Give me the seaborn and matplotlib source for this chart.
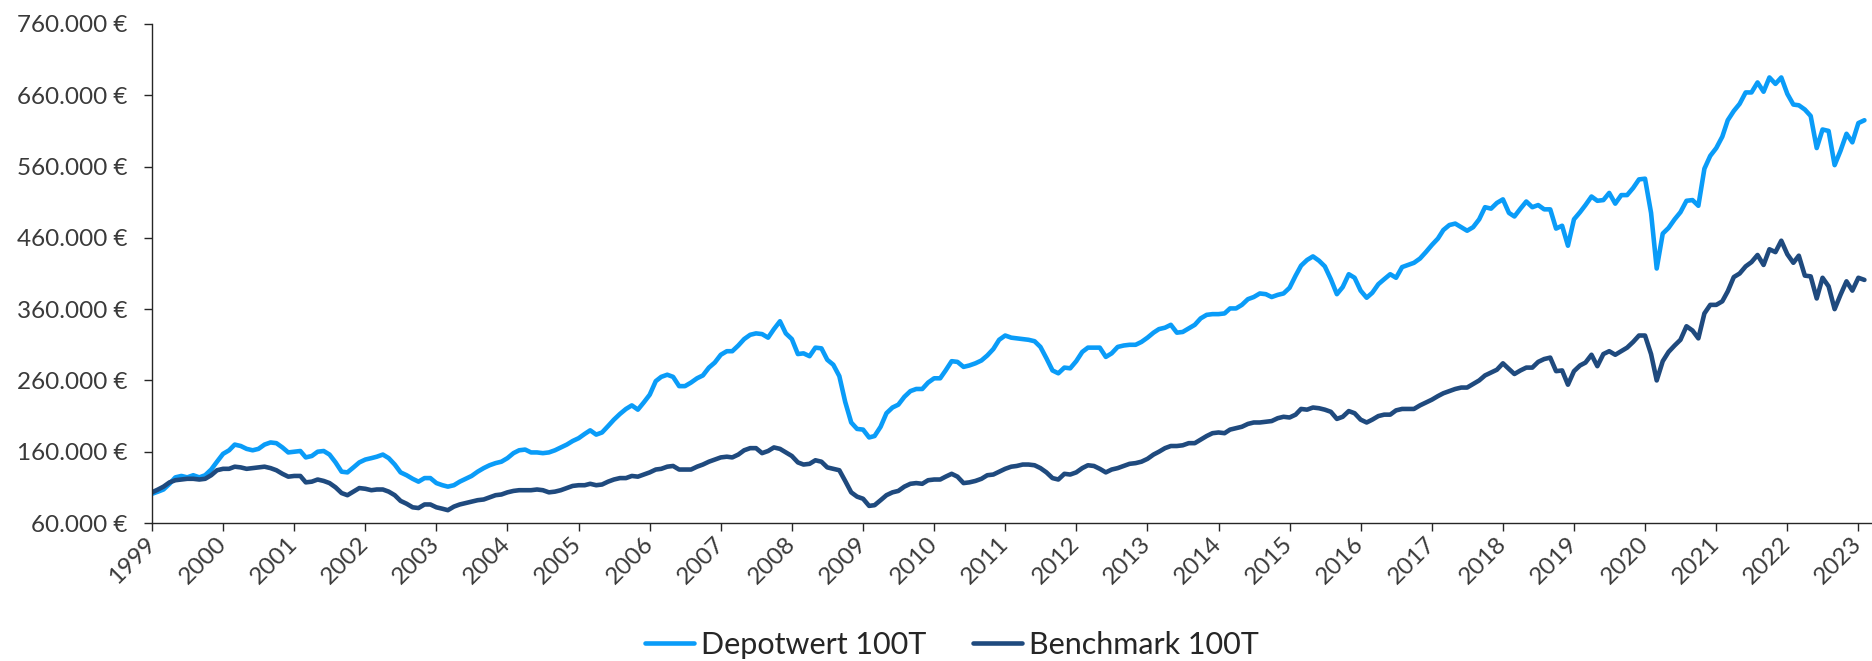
import numpy as np
import pandas as pd
import matplotlib
matplotlib.use('Agg')
from matplotlib import pyplot as plt
import matplotlib.dates as mdates
from matplotlib.ticker import FuncFormatter
import seaborn as sns

# Monthly values in thousand euro (Jan 1999 .. Feb 2023)
depotwert = [
    101, 104, 107, 115, 124, 126, 124, 127, 124, 127, 135, 146, 157, 162, 170, 168, 164, 162, 164, 170,
    173, 172, 166, 159, 160, 161, 152, 154, 160, 161, 156, 145, 132, 131, 138, 145, 149, 151, 153, 156,
    151, 142, 131, 127, 122, 118, 123, 123, 116, 113, 111, 113, 118, 122, 126, 132, 137, 141, 144, 146,
    151, 158, 162, 163, 159, 159, 158, 159, 162, 166, 170, 175, 179, 185, 190, 184, 187, 196, 205, 213,
    220, 225, 219, 229, 240, 259, 265, 268, 265, 252, 252, 257, 263, 267, 278, 285, 296, 301, 301, 309,
    318, 324, 326, 325, 320, 332, 343, 326, 318, 297, 298, 294, 306, 305, 289, 282, 266, 230, 201, 192,
    191, 180, 182, 195, 214, 222, 226, 237, 245, 248, 248, 257, 263, 263, 274, 287, 286, 279, 281, 284,
    288, 295, 304, 317, 323, 320, 319, 318, 317, 315, 307, 291, 274, 270, 278, 277, 287, 300, 306, 306,
    306, 293, 298, 307, 309, 310, 310, 314, 320, 327, 332, 334, 338, 327, 328, 333, 338, 347, 352, 353,
    353, 354, 361, 361, 366, 374, 377, 382, 381, 377, 380, 382, 390, 407, 421, 429, 434, 428, 420, 402,
    381, 391, 409, 404, 386, 376, 383, 395, 402, 409, 404, 419, 422, 425, 431, 440, 450, 459, 471, 478,
    480, 475, 470, 475, 486, 503, 501, 509, 514, 495, 490, 501, 511, 503, 506, 500, 500, 473, 477, 449,
    486, 496, 506, 518, 512, 513, 523, 508, 520, 520, 530, 542, 543, 495, 417, 466, 474, 486, 496, 512,
    513, 505, 557, 575, 586, 602, 625, 638, 648, 664, 664, 678, 665, 685, 676, 685, 662, 647, 646, 640,
    631, 586, 612, 610, 562, 582, 606, 594, 621, 625,
]
benchmark = [
    103, 107, 111, 117, 120, 121, 122, 122, 121, 122, 127, 134, 136, 136, 139, 138, 136, 137, 138, 139,
    137, 134, 129, 125, 126, 126, 117, 118, 121, 119, 116, 110, 102, 99, 104, 109, 108, 106, 107, 107,
    104, 99, 91, 87, 82, 81, 86, 86, 82, 80, 78, 83, 86, 88, 90, 92, 93, 96, 99, 100,
    103, 105, 106, 106, 106, 107, 106, 103, 104, 106, 109, 112, 113, 113, 115, 113, 114, 118, 121, 123,
    123, 126, 125, 128, 131, 135, 136, 139, 140, 135, 135, 135, 139, 142, 146, 149, 152, 153, 152, 156,
    162, 165, 165, 158, 161, 166, 164, 159, 154, 145, 142, 143, 148, 146, 138, 136, 134, 119, 103, 97,
    94, 84, 85, 92, 99, 103, 105, 111, 115, 116, 115, 120, 121, 121, 125, 129, 125, 116, 117, 119,
    122, 127, 128, 132, 136, 139, 140, 142, 142, 141, 137, 131, 123, 121, 129, 128, 131, 137, 141, 140,
    136, 131, 135, 137, 140, 143, 144, 146, 150, 156, 160, 165, 168, 168, 169, 172, 172, 177, 182, 186,
    187, 186, 191, 193, 195, 199, 201, 201, 202, 203, 207, 209, 208, 212, 220, 219, 222, 221, 219, 216,
    206, 209, 217, 214, 205, 201, 205, 210, 212, 212, 218, 220, 220, 220, 225, 229, 233, 238, 242, 245,
    248, 250, 250, 255, 260, 267, 271, 275, 284, 276, 269, 274, 278, 278, 286, 290, 292, 273, 274, 254,
    273, 281, 285, 296, 280, 297, 301, 296, 301, 306, 314, 323, 323, 297, 260, 287, 300, 309, 317, 336,
    330, 319, 354, 366, 366, 371, 385, 405, 410, 420, 426, 436, 422, 444, 440, 456, 437, 425, 435, 407,
    406, 375, 404, 392, 360, 380, 399, 386, 404, 401,
]
series_names = ['Depotwert 100T', 'Benchmark 100T']
line_colors = ['#0A9CF8', '#1F4A7E']
start_month = '1999-01-01'
y_ticks = [60000, 160000, 260000, 360000, 460000, 560000, 660000, 760000]

months = pd.date_range(start_month, periods=len(depotwert), freq='MS')
df = pd.DataFrame({
    'Monat': np.concatenate([months, months]),
    'Wert': np.array(depotwert + benchmark) * 1000,
    'Serie': [series_names[0]] * len(depotwert) + [series_names[1]] * len(benchmark),
})

sns.set_style('white')
plt.rcParams['font.family'] = ['Lato', 'DejaVu Sans']

fig = plt.figure(figsize=(18.72, 6.61), dpi=100)
ax = fig.add_axes([152 / 1872, 1 - 523 / 661, (1872 - 152) / 1872, (523 - 24) / 661])

sns.lineplot(data=df, x='Monat', y='Wert', hue='Serie', hue_order=series_names,
             palette=dict(zip(series_names, line_colors)), linewidth=3.3,
             estimator=None, legend=False, ax=ax)

# y axis in euro
ax.set_ylim(y_ticks[0], y_ticks[-1])
ax.set_yticks(y_ticks)
ax.yaxis.set_major_formatter(FuncFormatter(lambda v, p: f"{v:,.0f}".replace(',', '.') + '\u202f€'))

# x axis: one tick per year
ax.set_xlim(pd.Timestamp('1999-01-01'), pd.Timestamp('2023-03-12'))
ax.xaxis.set_major_locator(mdates.YearLocator())
ax.xaxis.set_major_formatter(mdates.DateFormatter('%Y'))

ax.set_xlabel('')
ax.set_ylabel('')
sns.despine(ax=ax)
for side in ['left', 'bottom']:
    ax.spines[side].set_color('#262626')
    ax.spines[side].set_linewidth(1.0)

ax.tick_params(axis='both', direction='out', length=5.5, width=1.0, color='#262626',
               labelsize=17.5, labelcolor='#3a3a3a', bottom=True, left=True)
ax.tick_params(axis='y', pad=12)
ax.tick_params(axis='x', pad=7)
for lbl in ax.get_xticklabels():
    lbl.set_rotation(45)
    lbl.set_ha('right')
    lbl.set_va('center')
    lbl.set_rotation_mode('anchor')

handles = ax.get_lines()[:2]
fig.legend(handles, series_names, loc='center', bbox_to_anchor=(952 / 1872, 16 / 661),
           ncol=2, frameon=False, fontsize=22, handlelength=1.6, handletextpad=0.25,
           columnspacing=1.5)

fig.savefig('out.png', dpi=100)
